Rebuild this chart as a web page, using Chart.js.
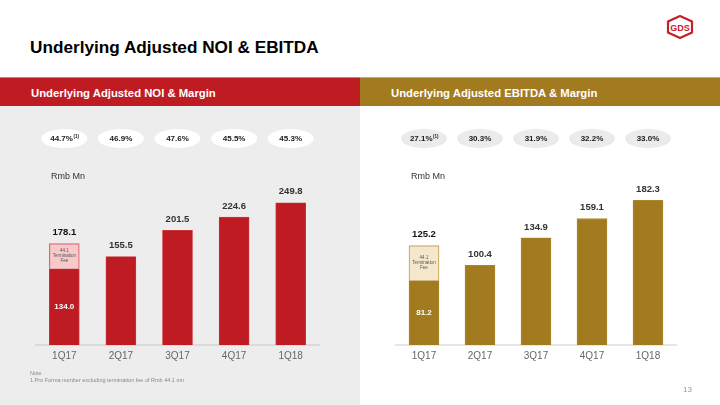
<!DOCTYPE html>
<html><head><meta charset="utf-8">
<script src="https://cdn.jsdelivr.net/npm/chart.js@4.4.1/dist/chart.umd.min.js"></script>
<style>
html,body{margin:0;padding:0;width:720px;height:405px;overflow:hidden;background:#fff;font-family:"Liberation Sans",Arial,sans-serif;}
#title{position:absolute;left:30px;top:37px;font-size:17.2px;font-weight:bold;color:#000;white-space:nowrap;}
.hdr{position:absolute;top:77px;height:29px;line-height:30px;color:#fff;font-weight:bold;font-size:11.3px;box-sizing:border-box;padding-left:31px;white-space:nowrap;}
#h1{left:0;width:360px;background:#be1b23;border-top:1px solid #d77a7f;}
#h2{left:360px;width:360px;background:#a27a20;border-top:1px solid #c6ad77;}
#panel{position:absolute;left:0;top:106px;width:360px;height:299px;background:#ededed;}
.cw{position:absolute;top:106px;width:360px;height:299px;}
#note{position:absolute;left:30px;top:370px;font-size:5.5px;line-height:6.5px;color:#888;white-space:nowrap;}
#pg{position:absolute;left:683px;top:385px;font-size:8px;color:#999;}
#logo{position:absolute;left:666px;top:15px;}
</style></head>
<body>
<div id="title">Underlying Adjusted NOI &amp; EBITDA</div>
<div id="logo"><svg width="28" height="24" viewBox="0 0 28 24">
<polygon points="14,1 26,6.5 26,17.5 14,23 2,17.5 2,6.5" fill="none" stroke="#c8202a" stroke-width="2.2"/>
<text x="14" y="16" text-anchor="middle" font-family="Liberation Sans Narrow, Liberation Sans, Arial" font-weight="bold" font-size="9" fill="#c8202a">GDS</text>
</svg></div>
<div class="hdr" id="h1">Underlying Adjusted NOI &amp; Margin</div>
<div class="hdr" id="h2">Underlying Adjusted EBITDA &amp; Margin</div>
<div id="panel"></div>
<div class="cw" style="left:0"><canvas id="c1" width="360" height="299"></canvas></div>
<div class="cw" style="left:360px"><canvas id="c2" width="360" height="299"></canvas></div>
<div id="note">Note<br>1.Pro Forma number excluding termination fee of Rmb 44.1 mn</div>
<div id="pg">13</div>
<script>
const categories = ['1Q17','2Q17','3Q17','4Q17','1Q18'];
const noiBase = [134.0, 155.5, 201.5, 224.6, 249.8];
const noiFee = [44.1, null, null, null, null];
const noiTotals = [178.1, 155.5, 201.5, 224.6, 249.8];
const noiMargins = ['44.7%', '46.9%', '47.6%', '45.5%', '45.3%'];
const ebitdaBase = [81.2, 100.4, 134.9, 159.1, 182.3];
const ebitdaFee = [44.1, null, null, null, null];
const ebitdaTotals = [125.2, 100.4, 134.9, 159.1, 182.3];
const ebitdaMargins = ['27.1%', '30.3%', '31.9%', '32.2%', '33.0%'];
const marginNotes = ['(1)', '', '', '', ''];
const unitLabel = 'Rmb Mn';
const feeText = ['44.1', 'Termination', 'Fee'];

const FONT = '"Liberation Sans", Arial, sans-serif';

function makeChart(id, base, fee, totals, margins, st) {
  const extras = {
    id: 'extras',
    afterDatasetsDraw(chart) {
      const ctx = chart.ctx;
      const xs = chart.scales.x, ys = chart.scales.y;
      ctx.save();
      ctx.font = '9px ' + FONT;
      ctx.fillStyle = '#333';
      ctx.textAlign = 'left';
      ctx.textBaseline = 'middle';
      ctx.fillText(unitLabel, 51, 71);
      for (let i = 0; i < categories.length; i++) {
        const x = xs.getPixelForValue(i);
        ctx.fillStyle = st.pill;
        ctx.beginPath();
        ctx.ellipse(x, 32.5, 23, 9.5, 0, 0, Math.PI * 2);
        ctx.fill();
        ctx.fillStyle = '#1a1a1a';
        ctx.textBaseline = 'middle';
        const m = margins[i], n = marginNotes[i];
        ctx.font = 'bold 8px ' + FONT;
        const w1 = ctx.measureText(m).width;
        ctx.font = 'bold 4.5px ' + FONT;
        const w2 = n ? ctx.measureText(n).width : 0;
        const sx = x - (w1 + w2) / 2;
        ctx.textAlign = 'left';
        ctx.font = 'bold 8px ' + FONT;
        ctx.fillText(m, sx, 33);
        if (n) { ctx.font = 'bold 4.5px ' + FONT; ctx.fillText(n, sx + w1 + 0.5, 31); }
        const yt = ys.getPixelForValue(totals[i]);
        ctx.textAlign = 'center';
        ctx.font = 'bold 9.5px ' + FONT;
        ctx.fillStyle = i === 0 ? '#111' : '#333';
        ctx.fillText(totals[i].toFixed(1), x, yt - 11);
        if (fee[i] != null) {
          const yb = ys.getPixelForValue(base[i]);
          const y0 = ys.getPixelForValue(0);
          ctx.fillStyle = '#fff';
          ctx.font = 'bold 8px ' + FONT;
          ctx.fillText(base[i].toFixed(1), x, (yb + y0) / 2);
          const yf = ys.getPixelForValue(base[i] + fee[i]);
          const cy = (yf + yb) / 2;
          ctx.fillStyle = '#555';
          ctx.font = '4.5px ' + FONT;
          ctx.fillText(feeText[0], x, cy - 5);
          ctx.fillText(feeText[1], x, cy);
          ctx.fillText(feeText[2], x, cy + 5);
        }
      }
      ctx.restore();
    }
  };
  return new Chart(document.getElementById(id), {
    type: 'bar',
    data: {
      labels: categories,
      datasets: [
        { data: base, backgroundColor: st.bar, borderColor: st.barEdge, borderWidth: 0.8, barThickness: 30 },
        { data: fee, backgroundColor: st.fee, borderColor: st.feeEdge, borderWidth: 1.2, barThickness: 30 }
      ]
    },
    options: {
      responsive: false,
      animation: false,
      events: [],
      layout: { padding: { left: st.padL, right: st.padR, top: 0, bottom: 40 } },
      plugins: { legend: { display: false }, tooltip: { enabled: false } },
      scales: {
        x: {
          stacked: true,
          grid: { display: false, drawTicks: false },
          border: { display: true, color: st.axis, width: 2 },
          ticks: { color: '#666', font: { family: FONT, size: 10 }, padding: 5 },
          afterFit: s => { s.height = 20; }
        },
        y: { stacked: true, display: false, min: 0, max: st.max }
      }
    },
    plugins: [extras]
  });
}

makeChart('c1', noiBase, noiFee, noiTotals, noiMargins, {
  bar: '#be1b23', barEdge: '#cc3a42', fee: '#f7c9cb', feeEdge: '#e0636a', pill: '#ffffff',
  axis: '#dadada', padL: 36, padR: 41, max: 420
});
makeChart('c2', ebitdaBase, ebitdaFee, ebitdaTotals, ebitdaMargins, {
  bar: '#a27a20', barEdge: '#b08a35', fee: '#f5e7cc', feeEdge: '#c9a962', pill: '#ebebeb',
  axis: '#e6e6e6', padL: 36, padR: 44, max: 301
});
</script>
</body></html>
